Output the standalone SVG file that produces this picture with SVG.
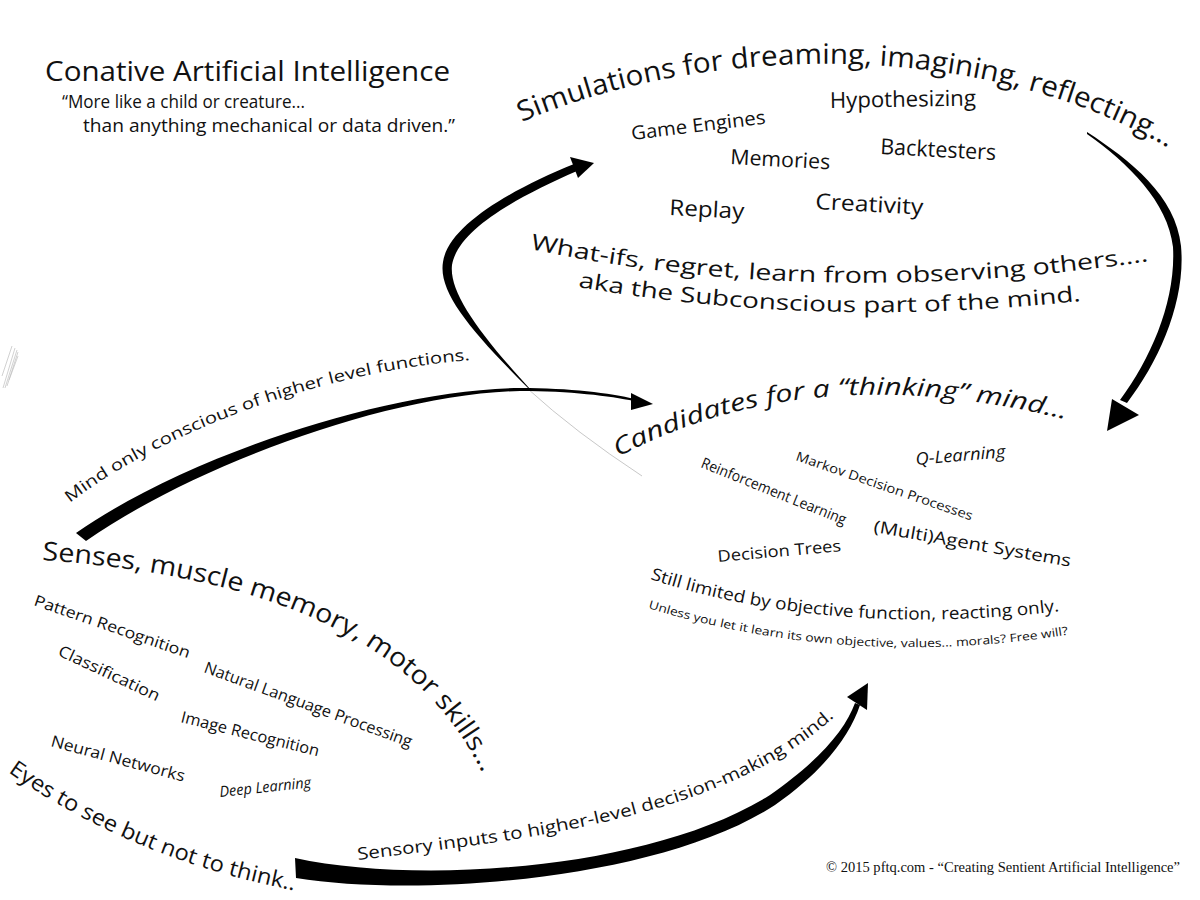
<svg xmlns="http://www.w3.org/2000/svg" width="1200" height="900" viewBox="0 0 1200 900">
<style>
text{font-family:"Open Sans","Noto Sans","DejaVu Sans",sans-serif;fill:#111}
.serif{font-family:"Liberation Serif","Times New Roman",serif}
.it{font-style:italic}
.arrow{fill:#000;stroke:none}
.faint{fill:none;stroke:#c8c8c8;stroke-width:1}
</style>
<defs>
<path id="p1" d="M 522 122 C 700 45 980 35 1172 150 L 1200 169"/>
<path id="p2" d="M 530 249 Q 820 310 1150 261 L 1190 255"/>
<path id="p3" d="M 578 287 Q 820 329 1080 301 L 1120 297"/>
<path id="p4" d="M 618 457 Q 810 355 1068 420 L 1116 432"/>
<path id="p5" d="M 650 579 Q 830 638 1062 611 L 1110 605"/>
<path id="p6" d="M 648 608 Q 850 670 1072 634 L 1121 626"/>
<path id="p7" d="M 70 503 C 150 440 310 372 472 360 L 520 356"/>
<path id="p8" d="M 42 560 C 250 575 410 630 480 768 L 500 808"/>
<path id="p9" d="M 8 772 Q 130 858 292 890 L 340 900"/>
<path id="p10" d="M 358 860 C 520 840 720 820 833 718 L 860 694"/>
</defs>
<rect width="1200" height="900" fill="#fff"/>

<g id="artifact" stroke="#bdbdbd" stroke-width="0.7">
<line x1="3" y1="388" x2="15" y2="348"/>
<line x1="5" y1="388" x2="17" y2="350"/>
<line x1="7" y1="386" x2="18" y2="352"/>
<line x1="2" y1="376" x2="12" y2="346"/>
<line x1="9" y1="380" x2="18" y2="356"/>
</g>

<g id="title">
<text x="45" y="81" font-size="27" textLength="405" lengthAdjust="spacingAndGlyphs">Conative Artificial Intelligence</text>
<text x="62" y="108" font-size="18" textLength="243" lengthAdjust="spacingAndGlyphs">“More like a child or creature...</text>
<text x="83" y="132" font-size="18" textLength="372" lengthAdjust="spacingAndGlyphs">than anything mechanical or data driven.”</text>
</g>

<g id="connectors">
<path class="faint" d="M 528 389 Q 575 432 642 476"/>
<path class="arrow" d="M 528 388 C 470 330 438 292 443 262 C 448 226 510 190 574 164 L 577 171 C 515 198 458 230 452 265 C 449 292 478 332 530 389 Z"/>
<polygon class="arrow" points="594,163 570,157 578,178"/>
<path class="arrow" d="M 1087 132 C 1130 160 1176 196 1181 246 C 1186 300 1160 360 1127 403 L 1120 400 C 1152 357 1176 300 1173 247 C 1168 202 1128 163 1087 134 Z"/>
<polygon class="arrow" points="1107,431 1112,399 1139,415"/>
<path class="arrow" d="M 76 533 C 180 460 380 390 520 388 C 570 388 610 393 635 399 L 634 401 C 610 396 570 391 520 391 C 385 394 190 468 86 541 Z"/>
<polygon class="arrow" points="653,404 631,393 631,410"/>
<path class="arrow" d="M 295 858 C 420 885 650 870 770 795 C 820 760 845 730 855 703 L 860 705 C 850 735 825 770 775 805 C 660 880 420 898 296 878 Z"/>
<polygon class="arrow" points="868,683 847,697 867,710"/>
</g>

<g id="simulations">
<text font-size="28"><textPath href="#p1" textLength="668" lengthAdjust="spacingAndGlyphs">Simulations for dreaming, imagining, reflecting...</textPath></text>
<text transform="translate(632,140) rotate(-7)" font-size="19" textLength="135" lengthAdjust="spacingAndGlyphs">Game Engines</text>
<text transform="translate(830,108) rotate(-1)" font-size="22" textLength="146" lengthAdjust="spacingAndGlyphs">Hypothesizing</text>
<text transform="translate(730,164) rotate(3)" font-size="21" textLength="100" lengthAdjust="spacingAndGlyphs">Memories</text>
<text transform="translate(880,154) rotate(3)" font-size="22" textLength="116" lengthAdjust="spacingAndGlyphs">Backtesters</text>
<text transform="translate(669,215) rotate(3)" font-size="22" textLength="75" lengthAdjust="spacingAndGlyphs">Replay</text>
<text transform="translate(815,209) rotate(3)" font-size="22" textLength="108" lengthAdjust="spacingAndGlyphs">Creativity</text>
<text font-size="22"><textPath href="#p2" textLength="622" lengthAdjust="spacingAndGlyphs">What-ifs, regret, learn from observing others....</textPath></text>
<text font-size="21.5"><textPath href="#p3" textLength="505" lengthAdjust="spacingAndGlyphs">aka the Subconscious part of the mind.</textPath></text>
</g>

<g id="candidates">
<text font-size="24" class="it"><textPath href="#p4" textLength="460" lengthAdjust="spacingAndGlyphs">Candidates for a “thinking” mind...</textPath></text>
<text transform="translate(916,465) rotate(-5)" font-size="17" class="it" textLength="90" lengthAdjust="spacingAndGlyphs">Q-Learning</text>
<text transform="translate(795,460) rotate(19)" font-size="13" textLength="186" lengthAdjust="spacingAndGlyphs">Markov Decision Processes</text>
<text transform="translate(700,467) rotate(22)" font-size="15" textLength="155" lengthAdjust="spacingAndGlyphs">Reinforcement Learning</text>
<text transform="translate(873,532) rotate(10)" font-size="17" textLength="200" lengthAdjust="spacingAndGlyphs">(Multi)Agent Systems</text>
<text transform="translate(718,562) rotate(-5)" font-size="16" textLength="124" lengthAdjust="spacingAndGlyphs">Decision Trees</text>
<text font-size="17"><textPath href="#p5" textLength="414" lengthAdjust="spacingAndGlyphs">Still limited by objective function, reacting only.</textPath></text>
<text font-size="11.5"><textPath href="#p6" textLength="425" lengthAdjust="spacingAndGlyphs">Unless you let it learn its own objective, values... morals? Free will?</textPath></text>
</g>

<g id="senses">
<text font-size="16"><textPath href="#p7" textLength="430" lengthAdjust="spacingAndGlyphs">Mind only conscious of higher level functions.</textPath></text>
<text font-size="26"><textPath href="#p8" textLength="513" lengthAdjust="spacingAndGlyphs">Senses, muscle memory, motor skills...</textPath></text>
<text transform="translate(33,605) rotate(19)" font-size="15.5" textLength="164" lengthAdjust="spacingAndGlyphs">Pattern Recognition</text>
<text transform="translate(57,655) rotate(25)" font-size="16" textLength="110" lengthAdjust="spacingAndGlyphs">Classification</text>
<text transform="translate(203,672) rotate(20)" font-size="16" textLength="220" lengthAdjust="spacingAndGlyphs">Natural Language Processing</text>
<text transform="translate(180,722) rotate(14)" font-size="16" textLength="142" lengthAdjust="spacingAndGlyphs">Image Recognition</text>
<text transform="translate(50,746) rotate(15)" font-size="16" textLength="138" lengthAdjust="spacingAndGlyphs">Neural Networks</text>
<text transform="translate(220,797) rotate(-6)" font-size="15" class="it" textLength="92" lengthAdjust="spacingAndGlyphs">Deep Learning</text>
<text font-size="22"><textPath href="#p9" textLength="312" lengthAdjust="spacingAndGlyphs">Eyes to see but not to think..</textPath></text>
<text font-size="17"><textPath href="#p10" textLength="505" lengthAdjust="spacingAndGlyphs">Sensory inputs to higher-level decision-making mind.</textPath></text>
</g>

<g id="footer">
<text class="serif" x="826" y="872" font-size="14" textLength="354" lengthAdjust="spacingAndGlyphs">© 2015 pftq.com - “Creating Sentient Artificial Intelligence”</text>
</g>
</svg>
